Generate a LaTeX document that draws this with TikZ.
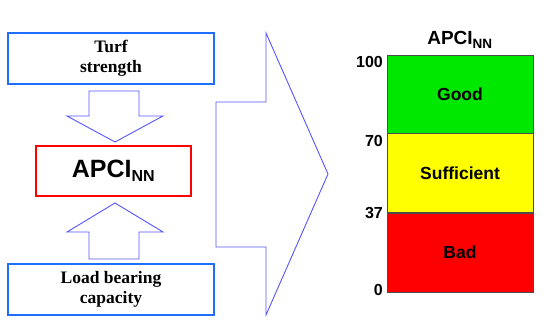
\documentclass[tikz,border=0pt]{standalone}
\usepackage{fontspec}
\setmainfont{Liberation Serif}
\setsansfont{Liberation Sans}
\usetikzlibrary{positioning}

\definecolor{boxblue}{RGB}{30,110,255}
\definecolor{arrowblue}{RGB}{85,85,255}
\definecolor{goodgreen}{RGB}{0,232,0}
\definecolor{suffyellow}{RGB}{255,255,0}
\definecolor{badred}{RGB}{255,0,0}

\begin{document}
\begin{tikzpicture}[
    x=1pt, y=-1pt,
    inbox/.style={draw=boxblue, line width=1.4pt, minimum width=206pt,
                  minimum height=51pt, align=center,
                  font=\fontsize{17.5}{20}\selectfont\bfseries},
    indexbox/.style={draw=badred, line width=1.4pt, minimum width=155pt,
                  minimum height=50pt, inner sep=0pt},
    blockarrow/.style={draw=arrowblue, line width=0.9pt, line join=miter},
    band/.style={draw=black!70, line width=0.6pt, minimum width=146pt,
                 inner sep=0pt, font=\sffamily\bfseries\fontsize{17.5}{20}\selectfont},
    tick/.style={anchor=east, inner sep=0pt,
                  font=\sffamily\bfseries\fontsize{16}{18}\selectfont},
]
\useasboundingbox (0,0) rectangle (550,323);
% Inputs
\node[inbox] (turf) at (111,58.5) {Turf\\strength};
\node[inbox] (load) at (111,289.5) {Load bearing\\capacity};
% Index
\node[indexbox] (apci) at (113.5,171)
    {\sffamily\bfseries\fontsize{25}{28}\selectfont APCI$_{\hbox{\sffamily\bfseries\fontsize{16}{18}\selectfont NN}}$};

% Arrows
\draw[blockarrow] (89,91) -- (139,91) -- (139,116) -- (163,116) -- (115,142)
    -- (67,116) -- (89,116) -- cycle;
\draw[blockarrow] (115,203) -- (163,232) -- (139,232) -- (139,259) -- (89,259)
    -- (89,232) -- (67,232) -- cycle;
\draw[blockarrow] (216,102) -- (266,102) -- (266,33) -- (328,174) -- (266,315)
    -- (266,247) -- (216,247) -- cycle;

% Rating scale
\node[band, fill=goodgreen, minimum height=78pt] (good) at (460,94) {Good};
\node[band, fill=suffyellow, minimum height=79pt, below=0pt of good] (suff) {Sufficient};
\node[band, fill=badred, minimum height=79pt, below=0pt of suff] (bad) {Bad};
\node[font=\sffamily\bfseries\fontsize{19}{21}\selectfont, inner sep=0pt] (title)
    at (460,40) {APCI$_{\hbox{\sffamily\bfseries\fontsize{13.5}{15}\selectfont NN}}$};
\node[tick] (s100) at (383,61.5) {100};
\node[tick] (s70) at (383,140.5) {70};
\node[tick] (s37) at (383,213) {37};
\node[tick] (s0) at (383,290) {0};

\end{tikzpicture}
\end{document}
